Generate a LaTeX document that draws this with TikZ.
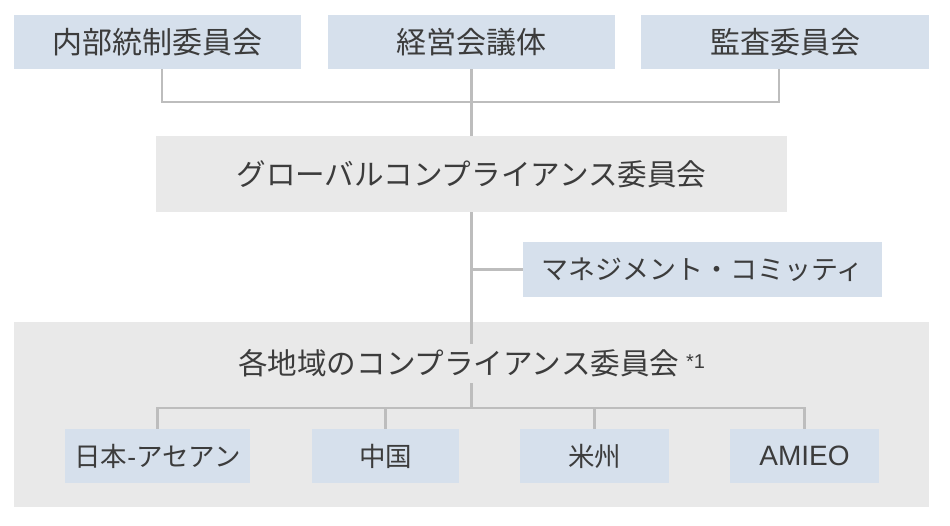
\documentclass[tikz,border=0pt]{standalone}
\usepackage{fontspec}
\setmainfont{Noto Sans CJK JP}
\newfontfamily\latinf{Liberation Sans}
\begin{document}
\begin{tikzpicture}[x=1pt,y=-1pt,
  bluebox/.style={fill=boxblue,inner sep=0pt,text=txt,font=\fontsize{30}{32}\selectfont},
  graybox/.style={fill=boxgray,inner sep=0pt,text=txt,font=\fontsize{30}{32}\selectfont},
  conn/.style={draw=linegray,line width=2.8pt},
  lbl/.style={inner sep=0pt,text=txt}]
\definecolor{boxblue}{HTML}{D6E0EC}
\definecolor{boxgray}{HTML}{E9E9E9}
\definecolor{linegray}{HTML}{BDBDBD}
\definecolor{txt}{HTML}{3C3C3C}
\useasboundingbox[fill=white] (0,0) rectangle (950,526);
% regional background
\node[graybox,minimum width=915pt,minimum height=185pt] (reg) at (471.5,414.5) {};
% top boxes
\node[bluebox,minimum width=287pt,minimum height=54pt] (b1) at (157.5,42) {内部統制委員会};
\node[bluebox,minimum width=287pt,minimum height=54pt] (b2) at (471.5,42) {経営会議体};
\node[bluebox,minimum width=288pt,minimum height=54pt] (b3) at (785,42) {監査委員会};
% global
\node[graybox,minimum width=631pt,minimum height=76pt,font=\fontsize{29.6}{32}\selectfont] (g) at (471.5,174) {グローバルコンプライアンス委員会};
% management
\node[bluebox,minimum width=359pt,minimum height=55pt,font=\fontsize{27}{29}\selectfont] (m) at (702.5,269.5) {マネジメント・コミッティ};
% regional title
\node[lbl,minimum height=39pt,font=\fontsize{29.6}{32}\selectfont] (rt) at (471.5,363.5) {各地域のコンプライアンス委員会 {\latinf\raisebox{6pt}{\fontsize{20}{20}\selectfont *1}}};
% bottom boxes
\node[bluebox,minimum width=185pt,minimum height=54pt,font=\fontsize{26.5}{28}\selectfont] (r1) at (157.5,456) {日本{\latinf -}アセアン};
\node[bluebox,minimum width=147pt,minimum height=54pt,font=\fontsize{26.5}{28}\selectfont] (r2) at (385.5,456) {中国};
\node[bluebox,minimum width=149pt,minimum height=54pt,font=\fontsize{26.5}{28}\selectfont] (r3) at (594.5,456) {米州};
\node[bluebox,minimum width=149pt,minimum height=54pt,font=\fontsize{28}{29}\selectfont\latinf] (r4) at (804.5,456) {AMIEO};
% coordinates
\coordinate (j) at (471.5,102);
\coordinate (k) at (471.5,408);
% connectors
\draw[conn] ([xshift=4.5pt]b1.south) |- (j);
\draw[conn] ([xshift=-6pt]b3.south) |- (j);
\draw[conn] (b2.south) -- (g.north);
\draw[conn] (g.south) -- (rt.north);
\draw[conn] (m.west) -- (m.west -| g.south);
\draw[conn] (rt.south) -- (k);
\draw[conn] (r1.north) |- (k);
\draw[conn] (r4.north) |- (k);
\draw[conn] (r2.north) -- (r2.north |- k);
\draw[conn] (r3.north) -- (r3.north |- k);
\end{tikzpicture}
\end{document}
